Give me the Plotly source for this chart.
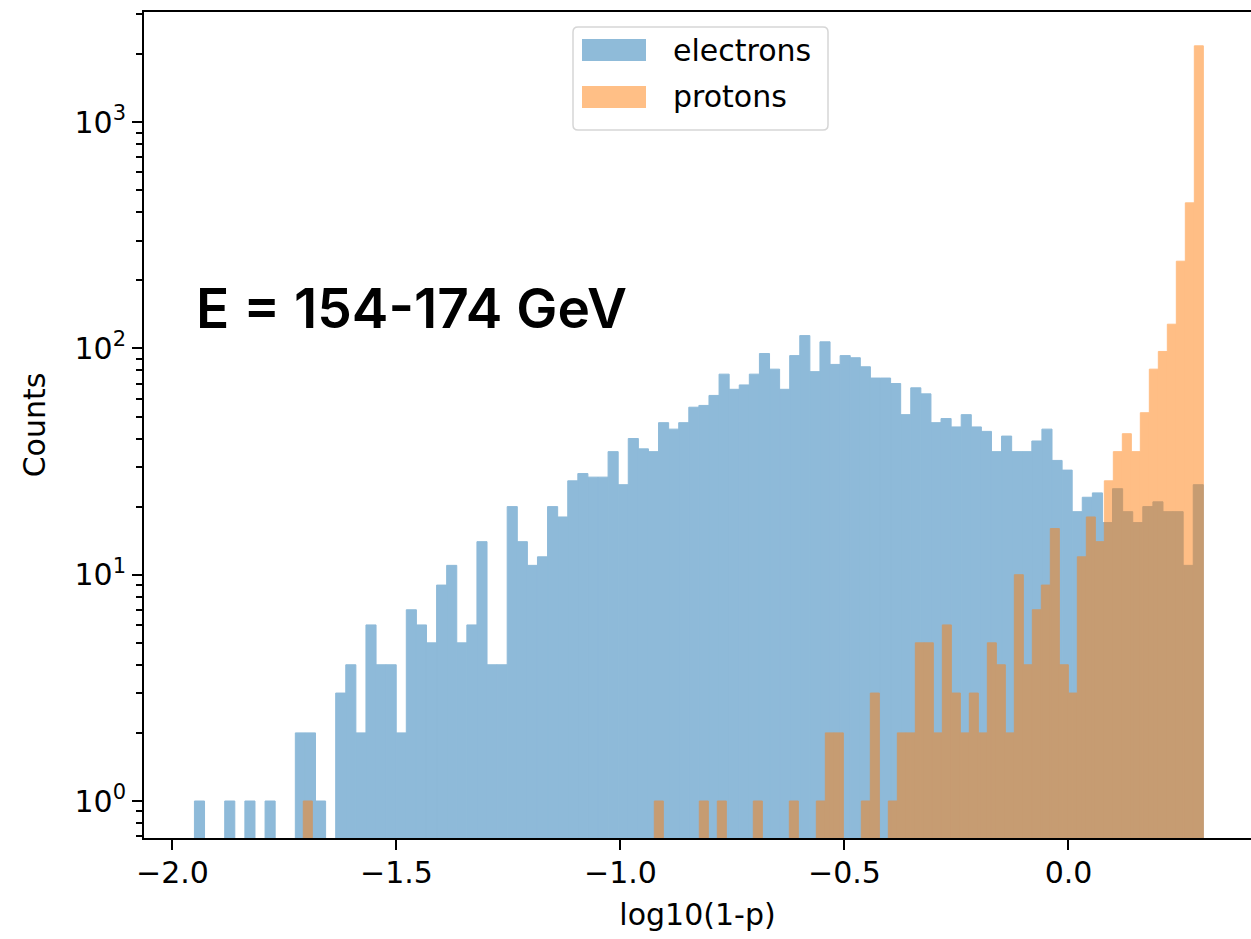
import numpy as np
import plotly.graph_objects as go

# Histogram binning in log10(1-p): 100 equal-width bins per sample
electron_range = (-1.951, 0.301)
proton_range = (-1.708, 0.301)

electron_counts = [
    1, 0, 0, 1, 0, 1, 0, 1, 0, 0,
    2, 2, 1, 0, 3, 4, 2, 6, 4, 4,
    2, 7, 6, 5, 9, 11, 5, 6, 14, 4,
    4, 20, 14, 11, 12, 20, 18, 26, 28, 27,
    27, 35, 25, 40, 36, 35, 47, 44, 47, 55,
    56, 62, 77, 66, 69, 77, 95, 81, 66, 93,
    114, 79, 107, 85, 93, 91, 83, 74, 74, 70,
    51, 67, 63, 47, 49, 45, 51, 45, 43, 35,
    41, 35, 35, 39, 44, 32, 29, 19, 22, 23,
    17, 24, 19, 17, 20, 21, 19, 19, 11, 25,
]

proton_counts = [
    1, 0, 0, 0, 0, 0, 0, 0, 0, 0,
    0, 0, 0, 0, 0, 0, 0, 0, 0, 0,
    0, 0, 0, 0, 0, 0, 0, 0, 0, 0,
    0, 0, 0, 0, 0, 0, 0, 0, 0, 1,
    0, 0, 0, 0, 1, 0, 1, 0, 0, 0,
    1, 0, 0, 0, 1, 0, 0, 1, 2, 2,
    0, 0, 1, 3, 0, 1, 2, 2, 5, 5,
    2, 6, 3, 2, 3, 2, 5, 4, 2, 10,
    4, 7, 9, 16, 4, 3, 12, 18, 14, 26,
    35, 42, 35, 52, 81, 97, 128, 243, 440, 2175,
]

series_names = ["electrons", "protons"]
series_colors = ["#1f77b4", "#ff7f0e"]

x_tick_vals = [-2.0, -1.5, -1.0, -0.5, 0.0]
x_tick_text = ["\u22122.0", "\u22121.5", "\u22121.0", "\u22120.5", "0.0"]
y_tick_vals = [1, 10, 100, 1000]
y_tick_text = ["10<sup>0</sup>", "10<sup>1</sup>", "10<sup>2</sup>", "10<sup>3</sup>"]
y_minor_vals = [0.7, 0.8, 0.9] + [m * 10 ** d for d in range(0, 4) for m in range(2, 10)]

energy_label = "E = 154-174 GeV"

TEXT_SIZE = 30


def bin_geometry(value_range, counts):
    edges = np.linspace(value_range[0], value_range[1], len(counts) + 1)
    centers = 0.5 * (edges[:-1] + edges[1:])
    return centers, edges[1] - edges[0]


fig = go.Figure()
for name, color, rng, counts in zip(series_names, series_colors,
                                    [electron_range, proton_range],
                                    [electron_counts, proton_counts]):
    centers, width = bin_geometry(rng, counts)
    fig.add_trace(go.Bar(
        x=centers,
        y=[c if c > 0 else None for c in counts],
        width=width,
        name=name,
        # outline in the fill colour closes hairline seams between adjacent bins
        marker=dict(color=color, line=dict(width=1, color=color)),
        opacity=0.5,
        showlegend=False,
    ))

# Figure geometry (pixels) used to place the legend box and labels
W, H = 1251, 939
ML, MR, MT, MB = 144, 0, 12, 101
PW, PH = W - ML - MR, H - MT - MB


def px(x):
    return (x - ML) / PW


def py(y):
    return (H - MB - y) / PH


shapes = []
# legend frame with rounded corners
x0, x1, y0, y1, r = px(573), px(828), py(27), py(130), 5
rx, ry = r / PW, r / PH
shapes.append(dict(
    type="path", xref="paper", yref="paper",
    path=(f"M {x0 + rx},{y0} L {x1 - rx},{y0} Q {x1},{y0} {x1},{y0 - ry} "
          f"L {x1},{y1 + ry} Q {x1},{y1} {x1 - rx},{y1} "
          f"L {x0 + rx},{y1} Q {x0},{y1} {x0},{y1 + ry} "
          f"L {x0},{y0 - ry} Q {x0},{y0} {x0 + rx},{y0} Z"),
    line=dict(color="#d6d6d6", width=1.5), fillcolor="rgba(255,255,255,0.8)",
))
annotations = []
for i, (name, color) in enumerate(zip(series_names, series_colors)):
    top = 39 + i * 47
    shapes.append(dict(
        type="rect", xref="paper", yref="paper",
        x0=px(582), x1=px(646), y0=py(top), y1=py(top + 22),
        fillcolor=color, opacity=0.5, line=dict(width=0),
    ))
    annotations.append(dict(
        xref="paper", yref="paper", x=px(671), y=py(top + 11),
        xanchor="left", yanchor="middle", showarrow=False, text=name,
        font=dict(family="DejaVu Sans", size=TEXT_SIZE, color="#000000"),
    ))

annotations.append(dict(
    xref="paper", yref="paper", x=px(194), y=py(308),
    xanchor="left", yanchor="middle", showarrow=False, text=energy_label,
    font=dict(family="Inter", size=55, weight=600, color="#000000"),
))

fig.update_layout(
    width=W, height=H,
    margin=dict(l=ML, r=MR, t=MT, b=MB, pad=0),
    paper_bgcolor="white", plot_bgcolor="white",
    barmode="overlay",
    font=dict(family="DejaVu Sans", size=TEXT_SIZE, color="#000000"),
    shapes=shapes,
    annotations=annotations,
    xaxis=dict(
        range=[-2.0636, -2.0636 + PW / 448.0],
        tickvals=x_tick_vals, ticktext=x_tick_text,
        ticks="outside", ticklen=10, tickwidth=2, tickcolor="#000000",
        ticklabelstandoff=-3,
        showline=True, linecolor="#000000", linewidth=2, mirror=True,
        showgrid=False, zeroline=False,
        title=dict(text="log10(1-p)", font=dict(size=TEXT_SIZE), standoff=15),
    ),
    yaxis=dict(
        type="log",
        range=[-0.1635, 3.487],
        tickvals=y_tick_vals, ticktext=y_tick_text,
        ticks="outside", ticklen=10, tickwidth=2, tickcolor="#000000",
        minor=dict(tickvals=y_minor_vals, ticks="outside", ticklen=6,
                   tickwidth=1.5, tickcolor="#000000"),
        showline=True, linecolor="#000000", linewidth=2, mirror=False,
        showgrid=False, zeroline=False,
        title=dict(text="Counts", font=dict(size=TEXT_SIZE), standoff=20),
    ),
)

fig.write_html("out.html")
